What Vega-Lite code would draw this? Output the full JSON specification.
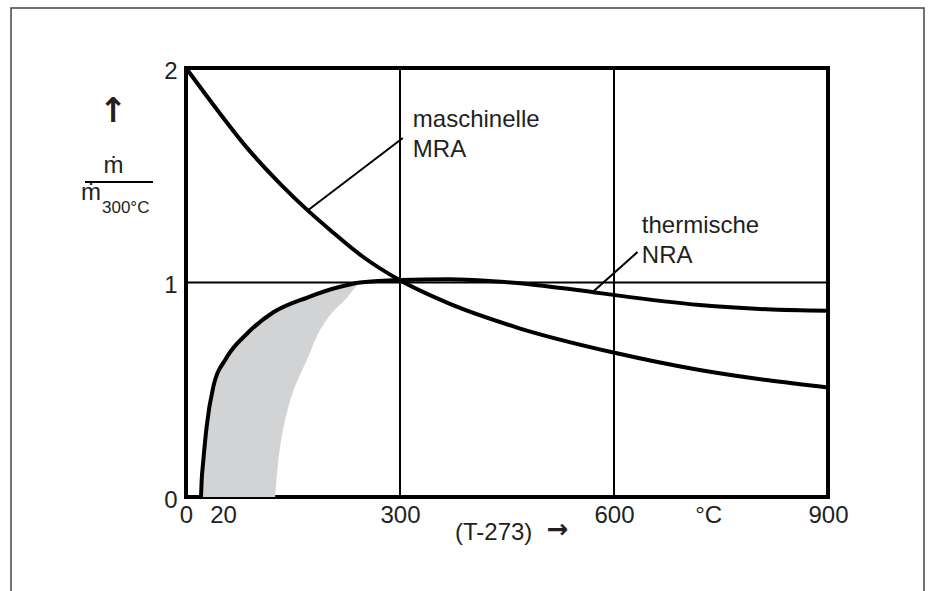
{
  "$schema": "https://vega.github.io/schema/vega-lite/v6.json",
  "width": 642,
  "height": 429,
  "autosize": {"type": "none"},
  "padding": {"left": 186, "top": 68, "right": 100, "bottom": 94},
  "background": "white",
  "config": {
    "view": {"stroke": "black", "strokeWidth": 4},
    "font": "Liberation Sans",
    "text": {"font": "Liberation Sans", "fontSize": 24, "color": "#231f20"}
  },
  "datasets": {
    "curves": [
      {"s": "NRA", "x": 21, "y": 0},
      {"s": "NRA", "x": 22, "y": 0.08},
      {"s": "NRA", "x": 24, "y": 0.16},
      {"s": "NRA", "x": 29, "y": 0.33},
      {"s": "NRA", "x": 38, "y": 0.51},
      {"s": "NRA", "x": 57, "y": 0.65},
      {"s": "NRA", "x": 85, "y": 0.76},
      {"s": "NRA", "x": 122, "y": 0.86},
      {"s": "NRA", "x": 170, "y": 0.93},
      {"s": "NRA", "x": 216, "y": 0.98},
      {"s": "NRA", "x": 244, "y": 1.0},
      {"s": "NRA", "x": 300, "y": 1.012},
      {"s": "NRA", "x": 370, "y": 1.015},
      {"s": "NRA", "x": 430, "y": 1.006},
      {"s": "NRA", "x": 487, "y": 0.99},
      {"s": "NRA", "x": 571, "y": 0.955},
      {"s": "NRA", "x": 604, "y": 0.94},
      {"s": "NRA", "x": 720, "y": 0.895},
      {"s": "NRA", "x": 814, "y": 0.875},
      {"s": "NRA", "x": 900, "y": 0.868},
      {"s": "MRA", "x": 0, "y": 2.0},
      {"s": "MRA", "x": 38, "y": 1.83},
      {"s": "MRA", "x": 85, "y": 1.63},
      {"s": "MRA", "x": 132, "y": 1.46},
      {"s": "MRA", "x": 171, "y": 1.335},
      {"s": "MRA", "x": 202, "y": 1.245},
      {"s": "MRA", "x": 248, "y": 1.12},
      {"s": "MRA", "x": 300, "y": 1.01},
      {"s": "MRA", "x": 370, "y": 0.9},
      {"s": "MRA", "x": 464, "y": 0.79},
      {"s": "MRA", "x": 604, "y": 0.67},
      {"s": "MRA", "x": 720, "y": 0.592},
      {"s": "MRA", "x": 814, "y": 0.545},
      {"s": "MRA", "x": 900, "y": 0.51}
    ],
    "band": [
      {"y": 0, "x": 21, "x2": 125},
      {"y": 0.16, "x": 24, "x2": 129},
      {"y": 0.33, "x": 29, "x2": 137},
      {"y": 0.5, "x": 37, "x2": 151},
      {"y": 0.65, "x": 57, "x2": 171},
      {"y": 0.76, "x": 85, "x2": 185},
      {"y": 0.86, "x": 122, "x2": 205},
      {"y": 0.93, "x": 170, "x2": 226},
      {"y": 0.98, "x": 216, "x2": 238},
      {"y": 1.0, "x": 244, "x2": 244}
    ],
    "rules": [
      {"x": 300, "y": 0, "x2": 300, "y2": 2},
      {"x": 600, "y": 0, "x2": 600, "y2": 2},
      {"x": 0, "y": 1, "x2": 900, "y2": 1},
      {"x": 171, "y": 1.337, "x2": 304, "y2": 1.674},
      {"x": 571, "y": 0.958, "x2": 633, "y2": 1.142},
      {"x": -141.6, "y": 1.468, "x2": -46.3, "y2": 1.468}
    ],
    "frame": [
      {"x": -245.3, "x2": 1034.6, "y": 2.28, "y2": -0.6}
    ],
    "labelsLeft": [
      {"x": 318, "y": 1.725, "text": "maschinelle"},
      {"x": 318, "y": 1.585, "text": "MRA"},
      {"x": 639, "y": 1.231, "text": "thermische"},
      {"x": 639, "y": 1.091, "text": "NRA"},
      {"x": 377.1, "y": -0.2005, "text": "(T-273)"}
    ],
    "labelsCenter": [
      {"x": -101.7, "y": 1.51, "text": "ṁ"},
      {"x": -133.2, "y": 1.385, "text": "ṁ"}
    ],
    "rightArrow": [
      {"x": 521, "y": -0.154, "text": "→"}
    ],
    "upArrow": [
      {"x": -102, "y": 1.797, "text": "↑"}
    ],
    "sub": [
      {"x": -117.8, "y": 1.324, "text": "300°C"}
    ]
  },
  "encoding": {
    "x": {
      "field": "x",
      "type": "quantitative",
      "scale": {"domain": [0, 900], "nice": false, "zero": false},
      "axis": {
        "values": [0, 52, 300, 600, 732, 900],
        "labelExpr": "datum.value == 52 ? '20' : datum.value == 732 ? '°C' : datum.label",
        "domain": false,
        "ticks": false,
        "grid": false,
        "title": null,
        "labelFont": "Liberation Sans",
        "labelFontSize": 24,
        "labelColor": "#231f20",
        "labelPadding": 6,
        "labelFlush": false,
        "labelOverlap": false
      }
    },
    "y": {
      "field": "y",
      "type": "quantitative",
      "scale": {"domain": [0, 2], "nice": false, "zero": false},
      "axis": {
        "values": [0, 1, 2],
        "labelExpr": "datum.value == 0 ? '0' : datum.value == 1 ? '1' : '2'",
        "domain": false,
        "ticks": false,
        "grid": false,
        "title": null,
        "labelFont": "Liberation Sans",
        "labelFontSize": 24,
        "labelColor": "#231f20",
        "labelPadding": 9,
        "labelOffset": 3,
        "labelFlush": false,
        "labelOverlap": false
      }
    }
  },
  "layer": [
    {
      "data": {"name": "frame"},
      "mark": {"type": "rect", "fillOpacity": 0, "stroke": "#444444", "strokeWidth": 1.5},
      "encoding": {"x2": {"field": "x2"}, "y2": {"field": "y2"}}
    },
    {
      "data": {"name": "band"},
      "mark": {"type": "area", "orient": "horizontal", "color": "#d1d3d4", "interpolate": "monotone"},
      "encoding": {"x2": {"field": "x2"}}
    },
    {
      "data": {"name": "rules"},
      "mark": {"type": "rule", "color": "black", "strokeWidth": 2},
      "encoding": {"x2": {"field": "x2"}, "y2": {"field": "y2"}}
    },
    {
      "data": {"name": "curves"},
      "mark": {"type": "line", "color": "black", "strokeWidth": 4, "interpolate": "monotone"},
      "encoding": {"detail": {"field": "s"}}
    },
    {
      "data": {"name": "labelsLeft"},
      "mark": {"type": "text", "align": "left", "baseline": "alphabetic"},
      "encoding": {"text": {"field": "text"}}
    },
    {
      "data": {"name": "labelsCenter"},
      "mark": {"type": "text", "align": "center", "baseline": "alphabetic"},
      "encoding": {"text": {"field": "text"}}
    },
    {
      "data": {"name": "rightArrow"},
      "mark": {"type": "text", "align": "center", "baseline": "middle", "font": "DejaVu Sans", "fontSize": 26, "fontWeight": "bold", "color": "#231f20"},
      "encoding": {"text": {"field": "text"}}
    },
    {
      "data": {"name": "upArrow"},
      "mark": {"type": "text", "align": "center", "baseline": "middle", "font": "DejaVu Sans", "fontSize": 34, "fontWeight": "bold", "color": "#231f20"},
      "encoding": {"text": {"field": "text"}}
    },
    {
      "data": {"name": "sub"},
      "mark": {"type": "text", "align": "left", "baseline": "alphabetic", "fontSize": 17},
      "encoding": {"text": {"field": "text"}}
    }
  ]
}
